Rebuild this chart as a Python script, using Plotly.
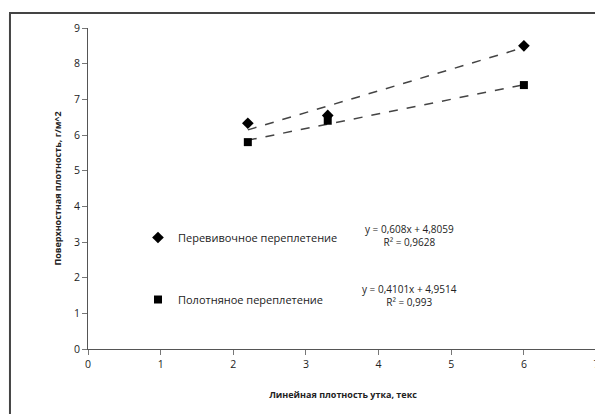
import plotly.graph_objects as go

# Data
x_vals = [2.2, 3.3, 6.0]
y_perev = [6.33, 6.55, 8.5]      # Перевивочное переплетение
y_polot = [5.8, 6.4, 7.4]        # Полотняное переплетение
names = ["Перевивочное переплетение", "Полотняное переплетение"]
slope = [0.608, 0.4101]
intercept = [4.8059, 4.9514]
r2 = ["0,9628", "0,993"]
eq_text = ["y = 0,608x + 4,8059", "y = 0,4101x + 4,9514"]
x_ticks = [0, 1, 2, 3, 4, 5, 6, 7]
y_ticks = [0, 1, 2, 3, 4, 5, 6, 7, 8, 9]

font_family = "Open Sans, Noto Sans, sans-serif"
dark = "#222222"

fig = go.Figure()

symbols = ["diamond", "square"]
sizes = [9, 8]
series = [y_perev, y_polot]
for i in range(2):
    xs = [min(x_vals), max(x_vals)]
    ys = [slope[i] * xv + intercept[i] for xv in xs]
    fig.add_trace(go.Scatter(
        x=xs, y=ys, mode="lines",
        line=dict(color="#444444", width=1.5, dash="dash"),
        showlegend=False, hoverinfo="skip"))
for i in range(2):
    fig.add_trace(go.Scatter(
        x=x_vals, y=series[i], mode="markers", name=names[i],
        legendgroup="g%d" % i,
        marker=dict(symbol=symbols[i], size=sizes[i], color="#000000")))

# Equation annotations
eq_y = [3.19, 1.49]
for i in range(2):
    fig.add_annotation(
        xref="x", yref="y", x=4.42, y=eq_y[i],
        text=eq_text[i] + "<br>R² = " + r2[i],
        showarrow=False, align="center",
        font=dict(family=font_family, size=10, color=dark))

fig.update_layout(
    width=603, height=406,
    margin=dict(l=80, r=13, t=20, b=65),
    paper_bgcolor="white", plot_bgcolor="white",
    font=dict(family=font_family, size=10, color=dark),
    showlegend=True,
    legend=dict(
        x=0.098, y=0.3925, xanchor="left", yanchor="top",
        bgcolor="rgba(0,0,0,0)", tracegroupgap=43,
        itemwidth=30,
        font=dict(family=font_family, size=11, color=dark)),
    xaxis=dict(
        range=[0, 7.02], tickvals=x_ticks, showgrid=False, zeroline=False,
        automargin=False, ticklabeloverflow="allow",
        showline=True, linecolor="#555555", linewidth=1,
        ticks="outside", ticklen=5, tickcolor="#777777",
        tickfont=dict(family=font_family, size=10.5, color=dark),
        title=dict(text="<b>Линейная плотность утка, текс</b>",
                   font=dict(family=font_family, size=9, color=dark), standoff=22)),
    yaxis=dict(
        range=[0, 9], tickvals=y_ticks, showgrid=False, zeroline=False,
        automargin=False,
        showline=True, linecolor="#555555", linewidth=1,
        ticks="outside", ticklen=5, tickcolor="#777777",
        tickfont=dict(family=font_family, size=10.5, color=dark),
        title=dict(text="<b>Поверхностная плотность, г/м^2</b>",
                   font=dict(family=font_family, size=9, color=dark), standoff=10)),
    shapes=[dict(type="rect", xref="paper", yref="paper",
                 x0=-0.153, x1=1.03, y0=-0.4, y1=1.0467,
                 line=dict(color="#444444", width=2), layer="below")],
)

fig.write_html("out.html")
